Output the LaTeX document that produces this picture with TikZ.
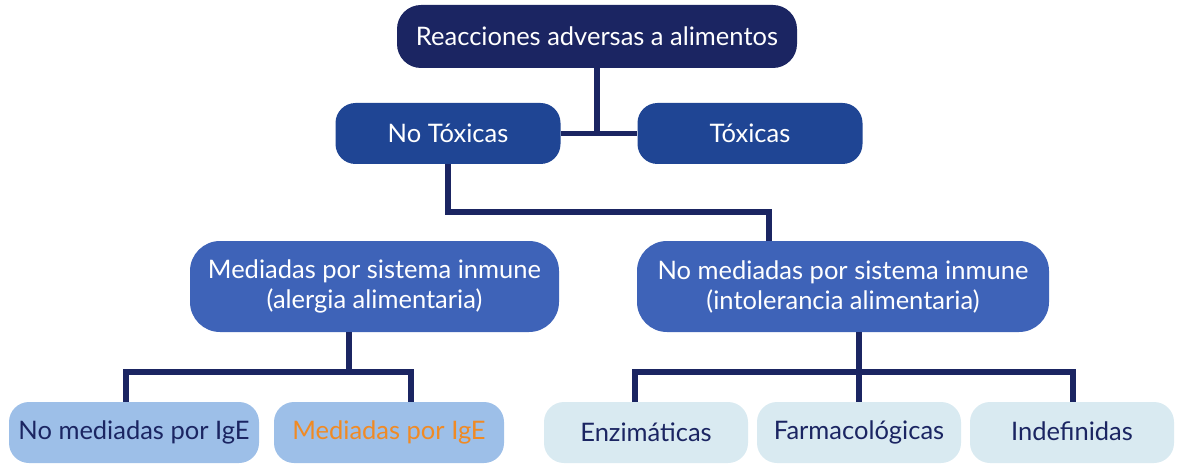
\documentclass[tikz,border=0pt]{standalone}
\usepackage{fontspec}
\setmainfont{Lato}
\definecolor{navy}{HTML}{1B2562}
\definecolor{blueA}{HTML}{1F4594}
\definecolor{blueB}{HTML}{3E63B8}
\definecolor{blueC}{HTML}{9DBFE8}
\definecolor{blueD}{HTML}{D9EAF1}
\definecolor{orangeT}{HTML}{F08A24}
\begin{document}
\begin{tikzpicture}[x=1pt,y=-1pt,
  box/.style={rectangle,inner sep=0pt,align=center,font=\fontsize{25.5}{30}\selectfont},
  lvl0/.style={box,fill=navy,text=white,rounded corners=24pt},
  lvl1/.style={box,fill=blueA,text=white,rounded corners=20pt},
  lvl2/.style={box,fill=blueB,text=white,rounded corners=30pt},
  lvl3/.style={box,fill=blueC,text=navy,rounded corners=20pt},
  lvl4/.style={box,fill=blueD,text=navy,rounded corners=20pt},
  conn/.style={draw=navy,line width=5.5pt,line join=miter}]
\useasboundingbox (0,0) rectangle (1185,465);
\node[lvl0,minimum width=400pt,minimum height=63pt] (top) at (597,36.5) {Reacciones adversas a alimentos};
\node[lvl1,minimum width=225pt,minimum height=61pt] (nt) at (448,133.5) {No Tóxicas};
\node[lvl1,minimum width=225pt,minimum height=61pt] (tx) at (750,133.5) {Tóxicas};
\node[lvl2,minimum width=369pt,minimum height=91pt] (med) at (374.5,286.5) {Mediadas por sistema inmune\\(alergia alimentaria)};
\node[lvl2,minimum width=412pt,minimum height=91pt] (nmed) at (843,286.5) {No mediadas por sistema inmune\\(intolerancia alimentaria)};
\node[lvl3,minimum width=250pt,minimum height=61pt] (ige1) at (134,432.5) {No mediadas por IgE};
\node[lvl3,minimum width=230pt,minimum height=61pt,text=orangeT] (ige2) at (389,432.5) {Mediadas por IgE};
\node[lvl4,minimum width=204pt,minimum height=61pt] (enz) at (646,432.5) {Enzimáticas};
\node[lvl4,minimum width=204pt,minimum height=61pt] (farm) at (859,432.5) {Farmacológicas};
\node[lvl4,minimum width=204pt,minimum height=61pt] (ind) at (1072,432.5) {\raisebox{3pt}{Indefinidas}};
% coordinates
\coordinate (j0) at (top.south |- nt.east);
\coordinate (j1) at (769,212);
\coordinate (m0) at (349,332);
\coordinate (m1) at (349,372);
\coordinate (n0) at (859,332);
\coordinate (n1) at (859,372);
% connectors
\draw[conn] (top.south) -- (j0);
\draw[conn] (nt.east) -- (tx.west);
\draw[conn] (nt.south) |- (j1) -- (j1 |- nmed.north);
\draw[conn] (m0) -- (m1);
\draw[conn] (126,402) coordinate (a1) -- (a1 |- m1) -- (411,372) coordinate (a2) -- (a2 |- ige2.north);
\draw[conn] (n0) -- (n1);
\draw[conn] (635,402) coordinate (b1) -- (b1 |- n1) -- (1073,372) coordinate (b2) -- (b2 |- ind.north);
\draw[conn] (n1) -- (n1 |- farm.north);
\end{tikzpicture}
\end{document}
